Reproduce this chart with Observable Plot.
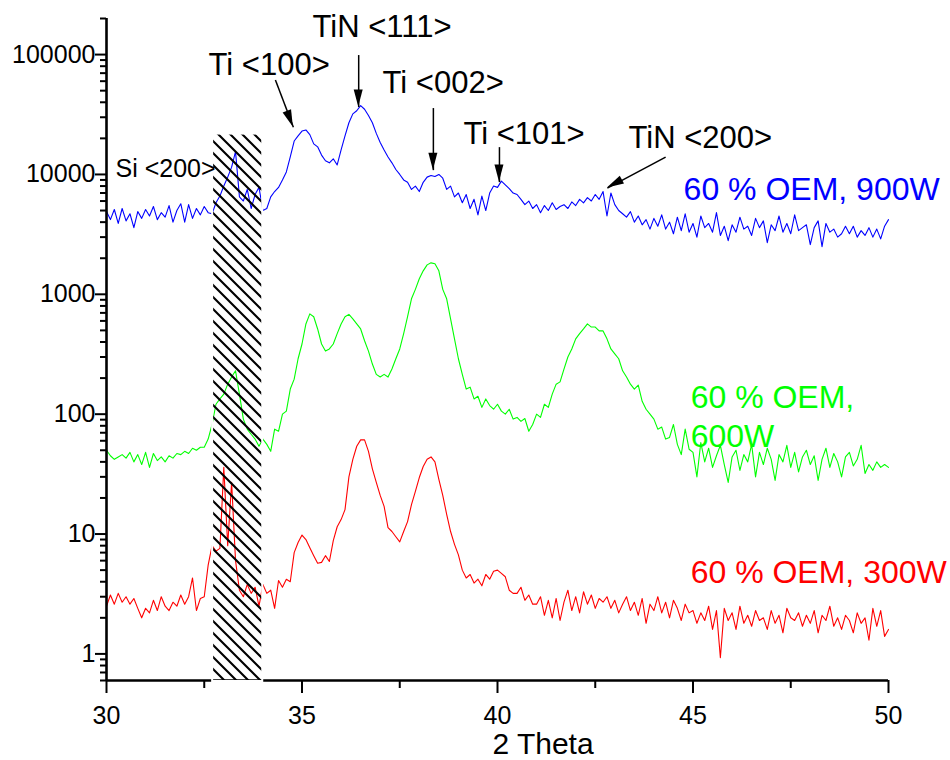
<!DOCTYPE html>
<html><head><meta charset="utf-8">
<script src="https://cdn.jsdelivr.net/npm/d3@7"></script>
<script src="https://cdn.jsdelivr.net/npm/@observablehq/plot@0.6"></script>
<style>body{margin:0;background:#fff} svg{display:block}</style>
</head><body><div id="chart"></div>
<script>
// 2θ grid: 30.0 .. 50.0 in steps of 0.1
const twoThetaStart = 30, twoThetaStep = 0.1, twoThetaCount = 201;

// 60 % OEM, 900W (blue)
const oem900W = [
 4900,4200,5100,3900,5200,4100,4700,3600,4900,4300,
 5100,4500,5400,4200,4800,4400,5500,4000,5000,5700,
 4000,5600,4300,5200,4600,5400,4800,4700,5800,6600,
 8000,9500,11500,15500,6500,6000,7500,5200,6800,7800,
 5000,5200,6500,7200,7800,9000,10500,14000,19000,21000,
 23000,23500,21500,18000,17000,14500,13000,12500,13500,12000,
 16000,21000,27000,32000,34000,37500,35000,31000,27000,22000,
 18500,16000,14000,12500,11000,10000,9000,8600,7500,8000,
 7200,8600,9500,9800,9600,10000,9300,7500,8000,6500,
 7000,5800,6800,5200,6200,4600,6600,5000,7000,8000,
 7800,8800,8200,7600,7000,6800,6200,5600,6000,5200,
 5600,4800,5500,5000,5800,5100,5400,5600,5200,5900,
 5500,6200,5800,6400,6000,6800,6200,7200,4500,7000,
 5600,5000,4700,4400,4900,4000,4500,3800,4200,3500,
 4300,3700,4600,3500,4000,3200,4400,3400,4700,3300,
 3900,3000,4500,3600,3900,3300,4800,3100,3700,2800,
 3800,3300,4400,3500,3700,3100,4300,3600,4100,2700,
 3800,3400,4500,3300,3900,3200,4600,3400,3600,3800,
 2600,3600,4100,2500,3900,3300,3500,3000,3200,3700,
 3200,3700,3000,3400,3100,3600,3000,3500,2900,3700,
 4200
];
// 60 % OEM, 600W (green)
const oem600W = [
 50,45,42,44,46,43,48,40,46,38,
 48,36,47,41,44,40,45,43,47,46,
 49,47,52,50,53,53,62,82,121,134,
 147,178,204,230,147,91,75,68,62,54,
 62,56,49,75,72,100,106,162,196,290,
 385,566,687,650,514,385,336,350,385,470,
 566,650,680,624,566,514,410,336,262,215,
 204,215,204,238,290,350,470,650,917,1100,
 1348,1570,1760,1830,1800,1570,1100,917,624,425,
 290,215,162,168,134,141,114,134,118,110,
 121,106,100,110,91,94,87,92,72,82,
 100,94,121,114,147,178,186,238,300,350,
 425,470,514,566,533,533,495,495,425,350,
 318,290,230,204,178,162,175,128,110,100,
 91,75,78,62,64,82,56,46,75,51,
 48,30,58,40,52,36,45,55,38,27,
 44,50,34,46,40,56,30,48,38,52,
 42,28,46,40,55,36,48,33,44,50,
 38,45,28,42,52,36,47,40,30,44,
 48,37,42,55,32,38,34,40,36,38,
 36
];
// 60 % OEM, 300W (red)
const oem300W = [
 2.5,3.1,2.6,3.2,2.7,3.0,2.6,2.9,2.4,2.0,
 2.4,2.2,2.8,2.3,3.0,2.5,2.3,2.7,2.5,3.1,
 2.6,3.0,4.3,2.3,2.9,3.0,5.5,8.0,7.2,7.6,
 36,8,27,6.0,3.4,3.0,3.8,3.2,3.6,2.5,
 3.8,3.2,3.4,2.4,4.1,3.6,4.2,4.0,7.0,8.5,
 9.8,9.0,7.7,6.6,5.7,5.8,6.6,5.9,8.8,11.5,
 13.2,16,30,42,54,61,61,49,35,27,
 21,17,11.3,10.5,9.5,8.6,10.5,12.7,17.6,22.7,
 29.6,36.6,42,44,40,28.6,21,14.6,10.5,8.2,
 6.7,5.0,4.3,4.6,3.9,4.2,3.7,4.6,4.2,4.9,
 5.0,4.7,4.4,3.4,3.2,3.2,3.6,2.8,3.1,2.6,
 2.6,3.0,2.1,2.8,2.0,2.9,1.9,2.7,3.4,2.3,
 3.0,2.2,3.3,2.6,3.1,2.4,2.9,2.7,3.0,2.4,
 2.8,2.2,2.6,3.0,2.3,2.7,2.1,2.9,1.8,2.6,
 2.3,3.0,2.2,2.7,2.0,2.8,2.4,1.9,2.6,2.2,
 2.3,1.8,2.2,1.9,2.5,1.6,2.3,0.93,2.4,1.9,
 2.2,1.6,2.5,1.8,2.1,1.7,2.3,1.9,2.0,1.6,
 2.3,1.8,2.1,1.5,2.4,2.0,1.9,2.2,1.7,2.1,
 1.8,2.3,1.5,2.1,1.9,2.5,1.7,2.0,1.6,2.1,
 1.9,1.5,2.2,1.8,2.0,1.3,2.4,1.7,2.3,1.4,
 1.6
];

const xMajorTicks = [30, 35, 40, 45, 50];
const xMinorTicks = [32.5, 37.5, 42.5, 47.5];
const yMajorTicks = [1, 10, 100, 1000, 10000, 100000];
const yDomain = [0.6, 200000];

// hatched Si substrate band
const siBand = [{x1: 32.74, x2: 33.97, y1: 0.6, y2: 21300}];

// peak annotations (text left edge, vertical centre in data units)
const peakLabels = [
  {text: "TiN <111>", x: 35.27, y: 168000},
  {text: "Ti <100>",  x: 32.61, y: 81100},
  {text: "Ti <002>",  x: 37.06, y: 57400},
  {text: "Ti <101>",  x: 39.13, y: 21900},
  {text: "TiN <200>", x: 43.35, y: 20300}
];
const siLabel = [{text: "Si <200>", x: 30.23, y: 11070}];
const peakArrows = [
  {x1: 36.45, y1: 99100, x2: 36.45, y2: 36500},
  {x1: 34.32, y1: 61250, x2: 34.78, y2: 24800},
  {x1: 38.36, y1: 35800, x2: 38.36, y2: 10860},
  {x1: 40.05, y1: 16900, x2: 40.05, y2: 8630},
  {x1: 44.30, y1: 13940, x2: 42.81, y2: 7690}
];
const seriesLabels = [
  {text: "60 % OEM, 900W", x: 44.76, y: 7430, color: "#0000ff"},
  {text: "60 % OEM,",      x: 44.94, y: 136,  color: "#00ff00"},
  {text: "600W",           x: 44.94, y: 64.4, color: "#00ff00"},
  {text: "60 % OEM, 300W", x: 44.94, y: 4.72, color: "#ff0000"}
];
const xTitle = [{text: "2 Theta", x: 39.87, y: 0.175}];

const theta = d3.range(twoThetaCount).map(i => Math.round((twoThetaStart + i * twoThetaStep) * 10) / 10);
const toRows = vals => vals.map((v, i) => ({x: theta[i], v}));
const s900 = toRows(oem900W), s600 = toRows(oem600W), s300 = toRows(oem300W);

const yMinorTicks = [];
for (let k = -1; k <= 5; k++) for (let m = 2; m <= 9; m++) {
  const v = m * Math.pow(10, k);
  if (v >= yDomain[0] && v <= yDomain[1] + 1) yMinorTicks.push(v);
}

const font = "'Liberation Sans', Arial, sans-serif";
const chart = Plot.plot({
  width: 950, height: 760,
  marginLeft: 106, marginRight: 62, marginTop: 18, marginBottom: 80,
  style: {fontFamily: font, background: "white", color: "black"},
  x: {domain: [30, 50]},
  y: {type: "log", domain: yDomain},
  marks: [
    Plot.line(s900, {x: "x", y: "v", stroke: "#0000ff", strokeWidth: 1.1}),
    Plot.line(s600, {x: "x", y: "v", stroke: "#00ff00", strokeWidth: 1.1}),
    Plot.line(s300, {x: "x", y: "v", stroke: "#ff0000", strokeWidth: 1.1}),
    Plot.ruleX([30], {stroke: "black", strokeWidth: 2.6}),
    Plot.ruleY([yDomain[0]], {stroke: "black", strokeWidth: 2.6}),
    Plot.rect(siBand, {x1: "x1", x2: "x2", y1: "y1", y2: "y2", fill: "url(#hatch)", stroke: "white", strokeWidth: 2, inset: -1}),
    Plot.axisY(yMajorTicks, {anchor: "left", tickSize: 11, tickPadding: 0, fontSize: 25, strokeWidth: 2, tickFormat: d3.format("d"), label: null}),
    Plot.axisY(yMinorTicks, {anchor: "left", tickSize: 6, strokeWidth: 2, tickFormat: () => "", label: null}),
    Plot.axisX(xMajorTicks, {anchor: "bottom", tickSize: 13, tickPadding: 13, fontSize: 25, strokeWidth: 2, tickFormat: d3.format("d"), label: null}),
    Plot.axisX(xMinorTicks, {anchor: "bottom", tickSize: 8, strokeWidth: 2, tickFormat: () => "", label: null}),
    Plot.link(peakArrows, {x1: "x1", y1: "y1", x2: "x2", y2: "y2", stroke: "black", strokeWidth: 1.5}),
    Plot.text(peakLabels, {x: "x", y: "y", text: "text", textAnchor: "start", fontSize: 31, fill: "black"}),
    Plot.text(siLabel, {x: "x", y: "y", text: "text", textAnchor: "start", fontSize: 25, fill: "black"}),
    Plot.text(seriesLabels, {x: "x", y: "y", text: "text", textAnchor: "start", fontSize: 32, fill: "color"}),
    Plot.text(xTitle, {x: "x", y: "y", text: "text", textAnchor: "start", fontSize: 30, fill: "black"})
  ]
});

// hatch pattern: "\" diagonals, 12 px vertical period
const svg = d3.select(chart);
const defs = svg.insert("defs", ":first-child");
const pat = defs.append("pattern").attr("id", "hatch").attr("patternUnits", "userSpaceOnUse")
  .attr("width", 12).attr("height", 12);
pat.append("path").attr("d", "M-3,-3L15,15M-3,9L3,15M9,-3L15,3")
  .attr("stroke", "#000").attr("stroke-width", 2.1).attr("fill", "none");

// filled arrowheads positioned through the plot's scales
const sx = chart.scale("x"), sy = chart.scale("y");
const heads = svg.append("g").attr("fill", "black");
for (const a of peakArrows) {
  const x1 = sx.apply(a.x1), y1 = sy.apply(a.y1), x2 = sx.apply(a.x2), y2 = sy.apply(a.y2);
  const len = Math.hypot(x2 - x1, y2 - y1), ux = (x2 - x1) / len, uy = (y2 - y1) / len;
  const L = 17, w = 4.5, bx = x2 - L * ux, by = y2 - L * uy;
  heads.append("path").attr("d", `M${x2},${y2}L${bx - w * uy},${by + w * ux}L${bx + w * uy},${by - w * ux}Z`);
}
document.getElementById("chart").appendChild(chart);
</script>
</body></html>
